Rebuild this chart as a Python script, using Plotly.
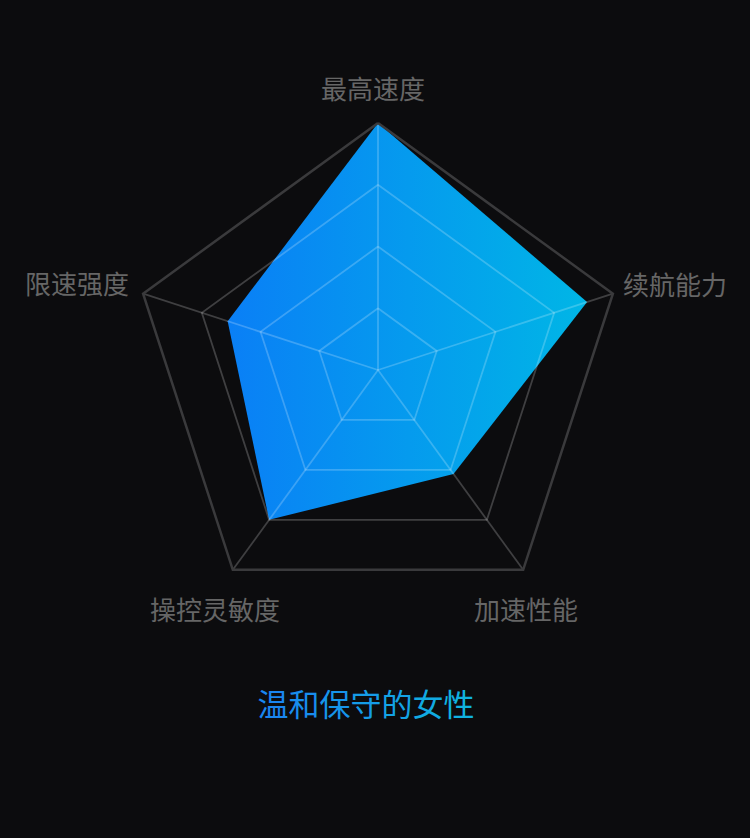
import numpy as np
import plotly.graph_objects as go

categories = ["最高速度", "续航能力", "加速性能", "操控灵敏度", "限速强度"]
values = [100, 89, 52, 75, 64]
ring_levels = [25, 50, 75]
max_value = 100
title_text = "温和保守的女性"

bg = "#0c0c0e"
grid_color = "rgba(255,255,255,0.21)"
outer_color = "#3a3a3c"
label_color = "#666666"
font_family = "Noto Sans CJK SC"

# radar is drawn clockwise from the top
angles = np.arange(len(categories)) * 2 * np.pi / len(categories)


def to_xy(r):
    r = np.asarray(r, dtype=float)
    x = r * np.sin(angles)
    y = r * np.cos(angles)
    return np.append(x, x[0]), np.append(y, y[0])


fig = go.Figure()

vx, vy = to_xy(values)
fig.add_trace(go.Scatter(
    x=vx, y=vy,
    mode="lines",
    fill="toself",
    fillgradient=dict(
        type="horizontal",
        colorscale=[[0, "#0a7ff6"], [1, "#00b6e6"]],
    ),
    line=dict(width=0, color="rgba(0,0,0,0)"),
    hoverinfo="skip",
))

# rings and spokes over the area
for level in ring_levels:
    rx, ry = to_xy([level] * len(categories))
    fig.add_trace(go.Scatter(x=rx, y=ry, mode="lines",
                             line=dict(color=grid_color, width=1.8),
                             hoverinfo="skip"))

ox, oy = to_xy([max_value] * len(categories))
for i in range(len(categories)):
    fig.add_trace(go.Scatter(x=[0, ox[i]], y=[0, oy[i]], mode="lines",
                             line=dict(color=grid_color, width=1.8),
                             hoverinfo="skip"))

fig.add_trace(go.Scatter(x=ox, y=oy, mode="lines",
                         line=dict(color=outer_color, width=2.5),
                         hoverinfo="skip"))

# axis names, placed around the outer vertices
name_style = [
    dict(xanchor="center", xshift=-5, yshift=36),
    dict(xanchor="left", xshift=8, yshift=10),
    dict(xanchor="center", xshift=3, yshift=-39),
    dict(xanchor="center", xshift=-18, yshift=-39),
    dict(xanchor="right", xshift=-12, yshift=11),
]
for i, name in enumerate(categories):
    fig.add_annotation(
        x=ox[i], y=oy[i], xref="x", yref="y",
        text=name, showarrow=False, yanchor="middle",
        font=dict(size=26, color=label_color, family=font_family),
        **name_style[i],
    )

# title in a light left-to-right blue gradient
c0 = np.array([0x1a, 0x86, 0xf0])
c1 = np.array([0x10, 0xb2, 0xe0])
chars = []
for k, ch in enumerate(title_text):
    c = c0 + (c1 - c0) * k / (len(title_text) - 1)
    chars.append(f"<span style='color:rgb({int(c[0])},{int(c[1])},{int(c[2])})'>{ch}</span>")

# 1 data unit = 2.47 px, centre of the radar at (378, 370) px
scale = 2.47
cx, cy = 378, 370
W, H = 750, 838

fig.update_layout(
    width=W,
    height=H,
    margin=dict(l=0, r=0, t=0, b=0),
    paper_bgcolor=bg,
    plot_bgcolor=bg,
    showlegend=False,
    title=dict(
        text="".join(chars),
        x=0.488,
        xanchor="center",
        y=1 - 705 / H,
        yanchor="middle",
        font=dict(size=31, family=font_family),
    ),
    xaxis=dict(range=[-cx / scale, (W - cx) / scale], visible=False, fixedrange=True),
    yaxis=dict(range=[-(H - cy) / scale, cy / scale], visible=False, fixedrange=True),
)

fig.write_html(
    "out.html",
    config={"displayModeBar": False},
    post_script="document.body.style.margin='0';document.body.style.background='#0c0c0e';",
)
